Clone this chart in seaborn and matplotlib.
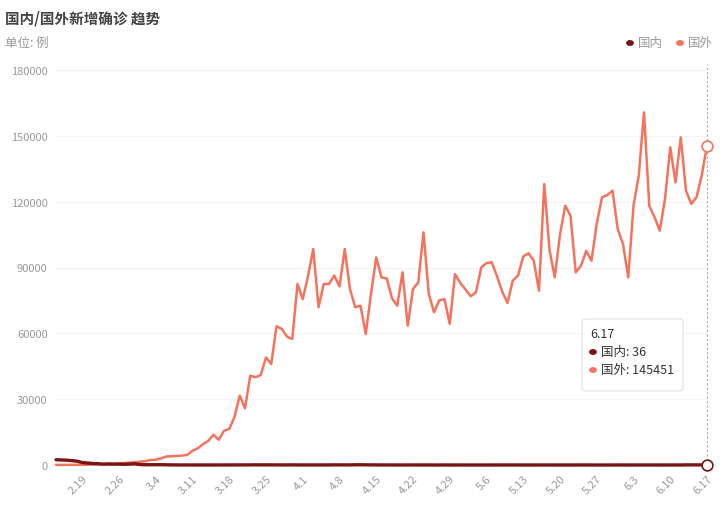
import numpy as np
import pandas as pd
import matplotlib
matplotlib.use("Agg")
import matplotlib.pyplot as plt
from matplotlib.patches import FancyBboxPatch
import seaborn as sns

# ---------------- data ----------------
dates = [f"{d.month}.{d.day}" for d in pd.date_range("2020-02-14", "2020-06-17")]

domestic = [
    2400, 2300, 2200, 2000, 1750, 1100, 900, 700, 600, 400,
    500, 400, 430, 330, 430, 570, 200, 130, 120, 140,
    140, 100, 45, 40, 20, 25, 15, 10, 10, 20,
    15, 20, 20, 30, 40, 40, 45, 40, 80, 50,
    70, 60, 50, 45, 30, 50, 35, 35, 30, 20,
    30, 40, 30, 60, 60, 40, 45, 100, 110, 90,
    45, 45, 25, 30, 15, 10, 10, 30, 15, 10,
    10, 10, 3, 6, 20, 5, 5, 10, 2, 3,
    1, 2, 2, 4, 2, 14, 15, 20, 5, 5,
    5, 5, 8, 7, 7, 5, 5, 5, 3, 4,
    11, 10, 5, 3, 3, 5, 4, 16, 5, 5,
    7, 6, 5, 6, 4, 5, 3, 10, 11, 15,
    57, 49, 40, 44, 36,
]

foreign = [
    60, 50, 100, 70, 80, 120, 150, 250, 300, 400,
    450, 500, 700, 900, 1100, 1300, 1500, 1800, 2300, 2400,
    3000, 3900, 4000, 4100, 4300, 4600, 6500, 7600, 9500, 11000,
    13800, 11500, 15600, 16400, 22000, 31600, 25800, 40700, 40000, 41000,
    49000, 46000, 63200, 62000, 58500, 57400, 82500, 75600, 86000, 98400,
    71900, 82500, 82500, 86300, 81400, 98400, 80000, 71900, 72600, 59700,
    78000, 94600, 85500, 85000, 76000, 72600, 87800, 63500, 80200, 83200,
    106000, 78000, 69600, 75000, 75600, 64300, 87000, 83000, 80000, 76900,
    78700, 90000, 92000, 92400, 86000, 79000, 73800, 84000, 86300, 95000,
    96500, 93100, 79400, 128000, 98000, 85500, 105000, 118200, 113600, 87800,
    90800, 97600, 93100, 110000, 122000, 123000, 125000, 107500, 100700, 85500,
    118200, 131800, 160700, 118200, 113000, 106800, 121200, 144800, 128800, 149300,
    125000, 119000, 122000, 132000, 145451,
]

series_names = ["国内", "国外"]
y_ticks = [0, 30000, 60000, 90000, 120000, 150000, 180000]

# ---------------- style ----------------
sns.set_theme(style="white")
plt.rcParams["font.family"] = ["Noto Sans CJK SC", "DejaVu Sans"]

c_dom = "#7b1414"
c_for = "#f4735f"
grey = "#999999"

df = pd.DataFrame({
    "idx": list(range(len(dates))) * 2,
    "value": domestic + foreign,
    "series": [series_names[0]] * len(dates) + [series_names[1]] * len(dates),
})

fig = plt.figure(figsize=(7.23, 5.06), dpi=100)
ax = fig.add_axes([56 / 723, 1 - 466 / 506, (707 - 56) / 723, (466 - 71) / 506])

sns.lineplot(data=df, x="idx", y="value", hue="series",
             palette={series_names[0]: c_dom, series_names[1]: c_for},
             hue_order=[series_names[1], series_names[0]],
             linewidth=1.8, legend=False, ax=ax)
for ln in ax.lines:
    ln.set_solid_joinstyle("round")
    ln.set_clip_on(False)
    ln.set_zorder(3)
ax.lines[1].set_linewidth(2.4)
ax.lines[1].set_zorder(4)

n = len(dates)
ax.set_xlim(0, n - 1)
ax.set_ylim(0, 180000)
ax.set_yticks(y_ticks)
ax.set_yticklabels([str(v) for v in y_ticks], color=grey, fontsize=8)
tick_idx = list(range(5, n, 7))
ax.set_xticks(tick_idx)
ax.set_xticklabels([dates[i] for i in tick_idx], rotation=45, ha="right",
                   rotation_mode="anchor", color=grey, fontsize=8)
ax.tick_params(axis="both", length=0, pad=6)
ax.set_xlabel("")
ax.set_ylabel("")
ax.grid(axis="y", color="#f3f3f3", linewidth=0.8)
ax.set_axisbelow(True)
for s in ["top", "right", "left"]:
    ax.spines[s].set_visible(False)
ax.spines["bottom"].set_color("#cccccc")
ax.spines["bottom"].set_zorder(1)

# hover indicator
last = n - 1
ax.axvline(last, ymin=0, ymax=1.015, color="#aaaaaa", linestyle=(0, (2, 2)),
           linewidth=0.8, clip_on=False, zorder=2)
ax.scatter([last], [foreign[last]], s=60, facecolor="white", edgecolor=c_for,
           linewidth=1.2, zorder=6, clip_on=False)
ax.scatter([last], [domestic[last]], s=60, facecolor="white", edgecolor=c_dom,
           linewidth=1.2, zorder=6, clip_on=False)

# titles
fig.text(5 / 723, 1 - 18 / 506, "国内/国外新增确诊 趋势", fontsize=10.5,
         fontweight="bold", color="#444444", va="center", ha="left")
fig.text(5 / 723, 1 - 43 / 506, "单位: 例", fontsize=9, color=grey,
         va="center", ha="left")

# legend
for xd, xt, name, col in [(630, 638, series_names[0], c_dom),
                          (680, 688, series_names[1], c_for)]:
    fig.patches.append(plt.Circle((xd / 723, 1 - 44 / 506), 3.2 / 723,
                                  transform=fig.transFigure, color=col,
                                  figure=fig))
    fig.text(xt / 723, 1 - 44 / 506, name, fontsize=9, color=grey,
             va="center", ha="left")

# tooltip
bx0, by0, bw, bh = 582, 320, 101, 72
box = FancyBboxPatch((bx0 / 723, 1 - (by0 + bh) / 506), bw / 723, bh / 506,
                     boxstyle="round,pad=0,rounding_size=0.006",
                     transform=fig.transFigure, facecolor="white",
                     edgecolor="#e2e2e2", linewidth=0.8, zorder=10)
fig.patches.append(box)
fig.text(590 / 723, 1 - 335 / 506, dates[last], fontsize=9, color="#333333",
         va="center", ha="left", zorder=11)
for yy, name, val, col in [(353, series_names[0], domestic[last], c_dom),
                           (371, series_names[1], foreign[last], c_for)]:
    fig.patches.append(plt.Circle((593 / 723, 1 - yy / 506), 3.2 / 723,
                                  transform=fig.transFigure, color=col,
                                  figure=fig, zorder=11))
    fig.text(601 / 723, 1 - yy / 506, f"{name}: {val}", fontsize=9,
             color="#333333", va="center", ha="left", zorder=11)

fig.savefig("out.png", dpi=100)
